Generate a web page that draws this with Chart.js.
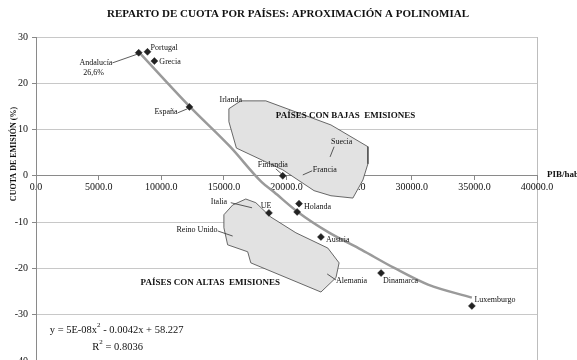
<!DOCTYPE html>
<html>
<head>
<meta charset="utf-8">
<script src="https://cdn.jsdelivr.net/npm/chart.js@4.4.1/dist/chart.umd.min.js"></script>
<style>
  html, body { margin: 0; padding: 0; background: #fff; overflow: hidden; }
</style>
</head>
<body>
<canvas id="chart" width="577" height="372"></canvas>
<script>
// countries shown as diamonds (PIB/hab, cuota %)
const pointPib   = [8200, 8900, 9450, 12250, 19700, 21000, 20850, 18600, 22750, 27550, 34800];
const pointCuota = [26.6, 26.8, 24.8, 14.9, 0.0, -6.0, -7.8, -8.0, -13.2, -21.0, -28.1];

// polynomial trend line as drawn
const trendPib   = [8200, 12300, 15500, 18000, 19000, 20900, 23300, 26000, 28600, 31300, 34800];
const trendCuota = [26.8, 14.9, 6.3, -1.3, -3.5, -7.8, -12.1, -16.0, -19.9, -23.5, -26.3];

// shaded groups
const lowPib   = [15400, 16350, 18350, 23550, 26500, 26500, 26100, 25300, 23550, 22200, 19700, 16000, 15400, 15400];
const lowCuota = [14.5, 16.2, 16.2, 11.0, 6.3, 2.6, -0.9, -4.8, -4.3, -3.2, 1.3, 6.0, 11.7, 14.5];
const highPib   = [15000, 15700, 16750, 17550, 18750, 20750, 23300, 24200, 23950, 22750, 17150, 16900, 15300, 15000, 15000];
const highCuota = [-8.4, -6.3, -5.0, -5.8, -8.9, -12.3, -15.6, -18.8, -22.0, -25.1, -18.8, -16.4, -14.9, -11.2, -8.4];

// text labels: [text, pib, cuota, align]
const labelTexts = ['Portugal', 'Andalucía', '26,6%', 'Grecia', 'España', 'Irlanda', 'Suecia', 'Finlandia',
  'Francia', 'Italia', 'UE', 'Holanda', 'Reino Unido', 'Austria', 'Alemania', 'Dinamarca', 'Luxemburgo'];
const labelPib   = [9150, 6100, 4600, 9850, 11300, 14650, 23550, 17700, 22100, 13950, 17950, 21400, 14500, 23150, 23950, 27700, 35000];
const labelCuota = [27.6, 24.4, 22.2, 24.6, 13.8, 16.4, 7.3, 2.4, 1.3, -5.6, -6.5, -6.7, -11.7, -13.8, -22.7, -22.7, -26.8];
const labelAlign = ['left', 'right', 'center', 'left', 'right', 'left', 'left', 'left',
  'left', 'left', 'left', 'left', 'right', 'left', 'left', 'left', 'left'];

// leader lines
const leaderFrom = [[6100, 24.4], [11300, 13.6], [23800, 6.3], [19150, 1.5], [22050, 1.1], [15550, -5.8], [14500, -11.9], [23250, -21.2]];
const leaderTo   = [[8100, 26.3], [12100, 14.5], [23480, 4.1], [19700, 0.2], [21300, 0.2], [17250, -6.9], [15700, -13.0], [23950, -22.5]];

const groupLabels = ['PAÍSES CON BAJAS  EMISIONES', 'PAÍSES CON ALTAS  EMISIONES'];
const groupPib   = [19150, 8350];
const groupCuota = [13.0, -23.1];

const serif = '"Liberation Serif", "Times New Roman", serif';

function toXY(xs, ys) {
  return xs.map((v, i) => ({ x: v, y: ys[i] }));
}

// writes text with "2" superscripts, parts = [[text, isSup], ...]
function supText(ctx, parts, px, py) {
  parts.forEach(([s, sup]) => {
    ctx.font = (sup ? '7px ' : '10.5px ') + serif;
    ctx.fillText(s, px, sup ? py - 5 : py);
    px += ctx.measureText(s).width;
  });
}

const annotate = {
  id: 'annotate',
  afterDatasetsDraw(chart) {
    const { ctx, scales: { x, y } } = chart;
    ctx.save();

    ctx.strokeStyle = '#333';
    ctx.lineWidth = 0.8;
    leaderFrom.forEach((p, i) => {
      const q = leaderTo[i];
      ctx.beginPath();
      ctx.moveTo(x.getPixelForValue(p[0]), y.getPixelForValue(p[1]));
      ctx.lineTo(x.getPixelForValue(q[0]), y.getPixelForValue(q[1]));
      ctx.stroke();
    });

    ctx.fillStyle = '#111';
    ctx.textBaseline = 'middle';
    ctx.font = '8px ' + serif;
    labelTexts.forEach((t, i) => {
      ctx.textAlign = labelAlign[i];
      ctx.fillText(t, x.getPixelForValue(labelPib[i]), y.getPixelForValue(labelCuota[i]));
    });

    ctx.font = 'bold 9px ' + serif;
    ctx.textAlign = 'left';
    groupLabels.forEach((t, i) => {
      ctx.fillText(t, x.getPixelForValue(groupPib[i]), y.getPixelForValue(groupCuota[i]));
    });

    // trend equation
    supText(ctx, [['y = 5E-08x', 0], ['2', 1], [' - 0.0042x + 58.227', 0]],
      x.getPixelForValue(1100), y.getPixelForValue(-33.3));
    supText(ctx, [['R', 0], ['2', 1], [' = 0.8036', 0]],
      x.getPixelForValue(4500), y.getPixelForValue(-37.1));
    ctx.restore();
  },
  afterDraw(chart) {
    const { ctx, chartArea } = chart;
    ctx.save();
    ctx.fillStyle = '#111';
    ctx.textBaseline = 'middle';
    ctx.textAlign = 'center';
    ctx.font = 'bold 11px ' + serif;
    ctx.fillText('REPARTO DE CUOTA POR PAÍSES: APROXIMACIÓN A POLINOMIAL', 288, 14);

    ctx.font = 'bold 9px ' + serif;
    ctx.textAlign = 'left';
    ctx.fillText('PIB/hab', chartArea.right + 10, chart.scales.y.getPixelForValue(-0.6) - 4);

    ctx.translate(14, 154);
    ctx.rotate(-Math.PI / 2);
    ctx.textAlign = 'center';
    ctx.font = 'bold 8px ' + serif;
    ctx.fillText('CUOTA DE EMISIÓN (%)', 0, 0);
    ctx.restore();
  }
};

new Chart(document.getElementById('chart'), {
  type: 'scatter',
  data: {
    datasets: [
      {
        data: toXY(pointPib, pointCuota),
        pointStyle: 'rectRot',
        pointRadius: 3.5,
        backgroundColor: '#222',
        borderColor: '#222',
        borderWidth: 0.5,
        order: 1
      },
      {
        data: toXY(trendPib, trendCuota),
        showLine: true,
        borderColor: '#9a9a9a',
        borderWidth: 2.5,
        pointRadius: 0,
        cubicInterpolationMode: 'monotone',
        order: 2
      },
      {
        data: toXY(lowPib, lowCuota),
        showLine: true,
        fill: 'shape',
        backgroundColor: '#e2e2e2',
        borderColor: '#444',
        borderWidth: 0.8,
        pointRadius: 0,
        order: 3
      },
      {
        data: toXY(highPib, highCuota),
        showLine: true,
        fill: 'shape',
        backgroundColor: '#e2e2e2',
        borderColor: '#444',
        borderWidth: 0.8,
        pointRadius: 0,
        order: 3
      }
    ]
  },
  options: {
    responsive: false,
    animation: false,
    devicePixelRatio: 1,
    layout: { padding: { top: 37, right: 40, bottom: 11, left: 0 } },
    plugins: {
      legend: { display: false },
      tooltip: { enabled: false }
    },
    scales: {
      x: {
        type: 'linear',
        position: { y: 0 },
        min: 0,
        max: 40000,
        ticks: {
          stepSize: 5000,
          autoSkip: false,
          maxRotation: 0,
          padding: 2,
          color: '#111',
          font: { family: serif, size: 10 },
          callback: v => v.toFixed(1)
        },
        grid: {
          color: c => (c.tick && c.tick.value === 40000 ? '#bdbdbd' : 'rgba(0,0,0,0)'),
          tickColor: '#888',
          tickLength: 4
        },
        border: { color: '#8a8a8a', width: 1 }
      },
      y: {
        min: -40,
        max: 30,
        afterFit: s => { s.width = 36; },
        ticks: {
          stepSize: 10,
          padding: 4,
          color: '#111',
          font: { family: serif, size: 10 }
        },
        grid: { color: '#c8c8c8', tickColor: '#888', tickLength: 4 },
        border: { color: '#8a8a8a', width: 1 }
      }
    }
  },
  plugins: [annotate]
});
</script>
</body>
</html>
